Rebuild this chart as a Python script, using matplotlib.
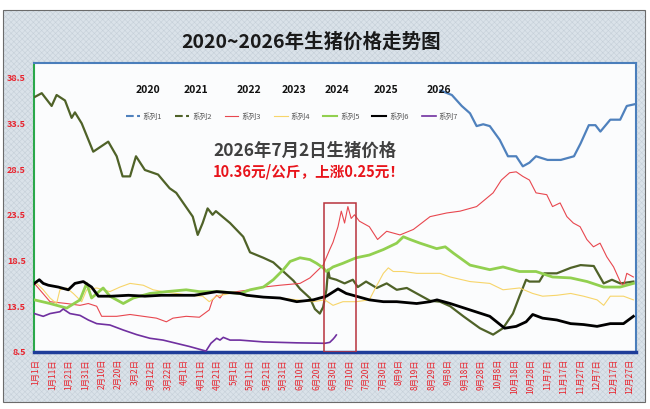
import matplotlib
matplotlib.use('Agg')
import matplotlib.pyplot as plt
from matplotlib.lines import Line2D
from matplotlib.patches import Rectangle

plt.rcParams['font.family'] = ['Noto Sans CJK SC', 'DejaVu Sans']
plt.rcParams['hatch.linewidth'] = 0.4

# day of year -> price (yuan / kg)
s1_day = [246, 253, 259, 264, 268, 272, 276, 282, 287, 292, 296, 300, 304, 311, 319, 327, 331, 336, 340, 343, 349, 355, 359, 364]
s1_val = [37.1, 36.6, 35.4, 34.6, 33.2, 33.4, 33.2, 31.7, 29.9, 29.9, 28.8, 29.2, 29.9, 29.5, 29.5, 29.9, 31.3, 33.3, 33.3, 32.6, 33.9, 33.9, 35.4, 35.6]

s2_day = [0.4, 4.5, 10.5, 13.5, 18.6, 22.6, 24.6, 28.7, 35.7, 44.8, 49.9, 53.5, 58, 61.6, 67, 75, 82, 86, 91, 96, 99, 102, 105, 108, 110,
          118.6, 126.6, 130.7, 138.8, 144.8, 150.9, 157, 161, 167, 170, 173, 175, 177, 178, 179, 183, 188, 193, 196, 201, 207.5,
          213.5, 219.6, 225.7, 231.7, 239.8, 245.8, 252, 260, 270, 278, 284, 290, 294, 298, 300, 306, 309, 316.6, 325, 331, 339,
          345, 350, 355, 363]
s2_val = [36.4, 36.8, 35.4, 36.6, 36.0, 34.1, 34.7, 33.5, 30.4, 31.5, 29.9, 27.7, 27.7, 29.9, 28.4, 27.9, 26.4, 25.9, 24.6, 23.3, 21.3, 22.6, 24.2, 23.5, 23.9,
          22.6, 21.1, 19.4, 18.8, 18.3, 17.3, 16.3, 15.4, 14.4, 13.2, 12.7, 13.4, 15.3, 17.5, 16.6, 16.4, 16.0, 16.4, 15.6, 16.2, 15.5,
          16.0, 15.3, 15.5, 14.9, 14.1, 14.0, 13.5, 12.4, 11.1, 10.4, 11.1, 12.7, 14.6, 16.4, 16.2, 16.2, 17.1, 17.1, 17.7, 18.0, 17.9,
          16.0, 16.4, 16.0, 16.2]

s3_day = [0, 9.5, 19.6, 27.7, 32.7, 37.8, 40.8, 49.9, 58, 66, 74, 80, 84, 92, 100, 106, 108, 110.5, 112.5, 114.5, 122.6, 130.7,
          138.8, 148.9, 161, 167, 171, 175, 179, 181, 184, 186, 188, 190, 192, 194, 197, 203, 208, 213.5, 221.6, 229.7, 239.8,
          249.9, 258, 268, 278, 283, 288, 292, 296, 300, 304, 310.5, 314, 318.6, 322.7, 326.6, 330.7, 334.8, 338.8, 342.8,
          346.9, 351, 355, 357, 359, 363]
s3_val = [16.0, 14.0, 13.8, 13.6, 13.8, 13.5, 12.4, 12.4, 12.6, 12.4, 12.2, 11.8, 12.2, 12.4, 12.3, 13.1, 14.2, 14.7, 14.4, 14.9, 15.1, 15.3,
          15.6, 15.8, 16.0, 16.6, 17.3, 18.0, 19.7, 20.5, 22.2, 23.9, 22.6, 24.4, 23.1, 23.5, 22.8, 22.2, 20.8, 21.7, 21.3, 21.9, 23.3,
          23.7, 23.9, 24.4, 25.9, 27.3, 28.1, 28.2, 27.7, 27.3, 25.9, 25.7, 24.4, 24.8, 23.3, 22.6, 22.2, 20.8, 20.0, 20.4,
          18.9, 17.8, 16.2, 15.7, 17.1, 16.7]

s4_day = [1.4, 5.4, 9.5, 13.5, 15.5, 19.6, 23.6, 28.7, 31.7, 37.8, 45.8, 51.9, 58, 66, 72, 78, 86, 94, 102, 106, 110.5, 118.6,
          124.6, 128.7, 138.8, 148.9, 159, 169, 176, 181, 187, 195, 203, 207, 211.5, 214.5, 217.5, 223.6, 231.7, 245.8, 252,
          264, 276, 284, 294, 302, 308, 316.6, 325, 332.8, 341, 345, 349, 357, 363]
s4_val = [16.0, 15.3, 14.4, 13.8, 15.3, 15.5, 14.9, 14.0, 15.3, 15.5, 15.1, 15.6, 16.0, 15.8, 15.3, 15.1, 14.9, 14.7, 14.6, 14.0, 14.6, 14.9,
          14.9, 14.6, 14.5, 14.4, 14.2, 14.0, 14.2, 13.6, 14.0, 14.0, 14.2, 15.6, 17.1, 17.7, 17.3, 17.3, 17.1, 17.1, 16.7,
          16.2, 16.0, 15.3, 15.5, 14.9, 14.6, 14.7, 14.9, 14.6, 14.2, 13.6, 14.6, 14.6, 14.2]

s5_day = [0, 9.5, 19.6, 27.7, 31.7, 34.7, 41.7, 45.8, 53.9, 60, 70, 80, 92, 100, 110.5, 118.6, 124.6, 130.7, 138.8, 144.8,
          150.9, 155, 161, 167, 171, 175, 177, 181, 187, 195, 203, 211.5, 219.6, 223.6, 227.7, 233.7, 243.8, 249, 254, 264,
          276, 284, 294, 304, 314, 325, 335, 345, 355, 363]
s5_val = [14.2, 13.8, 13.3, 14.2, 16.0, 14.4, 15.5, 14.6, 13.8, 14.4, 14.9, 15.1, 15.3, 15.1, 15.1, 15.0, 14.9, 15.3, 15.6, 16.4,
          17.5, 18.4, 18.8, 18.6, 18.2, 17.7, 17.3, 17.8, 18.2, 18.8, 19.1, 19.7, 20.4, 21.1, 20.8, 20.4, 19.8, 20.0, 19.3, 18.0,
          17.5, 17.8, 17.3, 17.3, 16.7, 16.6, 16.2, 15.6, 15.6, 16.0]

s6_day = [0, 3, 5.4, 8.5, 14.5, 20.6, 24.6, 29.7, 34.7, 38.8, 46.8, 57, 67, 77, 87, 97, 110.5, 124.6, 128.7, 138.8, 148.9,
          159, 169, 177, 184, 189, 195, 203, 211.5, 219.6, 231.7, 239.8, 244, 252, 264, 276, 285, 292, 298, 302, 308, 316.6,
          325, 332.8, 341, 349, 357, 363]
s6_val = [16.0, 16.4, 16.0, 15.8, 15.6, 15.3, 16.0, 16.2, 15.6, 14.6, 14.6, 14.7, 14.6, 14.7, 14.7, 14.7, 15.1, 14.9, 14.7, 14.5, 14.4,
          14.0, 14.2, 14.6, 15.4, 14.9, 14.6, 14.2, 14.0, 14.0, 13.8, 14.0, 14.2, 13.8, 13.1, 12.4, 11.1, 11.3, 11.8, 12.6, 12.2, 12.0,
          11.6, 11.5, 11.3, 11.6, 11.6, 12.4]

s7_day = [0, 5.4, 9.5, 15.5, 17.5, 21.6, 27.7, 32.7, 37.8, 45.8, 53.9, 62, 70, 78, 86, 94, 100, 104, 107, 110.5, 112.5, 114.5,
          118.6, 124.6, 138.8, 159, 176, 179, 181, 182, 183]
s7_val = [12.7, 12.4, 12.7, 12.9, 13.2, 12.7, 12.5, 12.0, 11.6, 11.45, 10.9, 10.4, 10.0, 9.8, 9.45, 9.1, 8.8, 8.6, 9.45, 10.0, 9.8, 10.1,
          9.8, 9.8, 9.6, 9.5, 9.45, 9.55, 9.9, 10.11, 10.36]

series_names = ['系列1', '系列2', '系列3', '系列4', '系列5', '系列6', '系列7']
years = ['2020', '2021', '2022', '2023', '2024', '2025', '2026']

y_ticks = [8.5, 13.5, 18.5, 23.5, 28.5, 33.5, 38.5]
x_ticks = list(range(1, 362, 10))
x_labels = ['1月1日', '1月11日', '1月21日', '1月31日', '2月10日', '2月20日', '3月2日', '3月12日', '3月22日',
            '4月1日', '4月11日', '4月21日', '5月1日', '5月11日', '5月21日', '5月31日', '6月10日', '6月20日',
            '6月30日', '7月10日', '7月20日', '7月30日', '8月9日', '8月19日', '8月29日', '9月8日', '9月18日',
            '9月28日', '10月8日', '10月18日', '10月28日', '11月7日', '11月17日', '11月27日', '12月7日',
            '12月17日', '12月27日']

colors = ['#4F81BD', '#4F6228', '#E8474F', '#F7D56A', '#92D050', '#000000', '#7030A0']
widths = [1.6, 1.6, 0.8, 0.8, 2.0, 2.0, 1.2]

fig = plt.figure(figsize=(6.5, 4.09), dpi=100, facecolor='white')

# outer hatched frame, kept behind the axes
bg = Rectangle((0.0046, 0.017), 0.9877, 0.9586, transform=fig.transFigure,
               facecolor='#dae2e9', edgecolor='#c6d0d9', hatch='xxxxxx', lw=0, zorder=-10)
fig.patches.append(bg)
border = Rectangle((0.0046, 0.017), 0.9877, 0.9586, transform=fig.transFigure,
                   fill=False, edgecolor='#6b6b6b', lw=0.8, zorder=-9)
fig.patches.append(border)

ax = fig.add_axes([0.0523, 0.1394, 0.9262, 0.7066])
ax.set_facecolor('#fbfcfd')

data = [(s1_day, s1_val), (s2_day, s2_val), (s3_day, s3_val), (s4_day, s4_val),
        (s5_day, s5_val), (s6_day, s6_val), (s7_day, s7_val)]
for i, (d, v) in enumerate(data):
    ax.plot(d, v, color=colors[i], lw=widths[i], solid_joinstyle='round', zorder=3 + (i == 5))

ax.set_xlim(-0.2, 364.6)
ax.set_ylim(8.5, 40.1)
ax.set_yticks(y_ticks)
ax.set_yticklabels([str(t) for t in y_ticks], color='#E8242E', fontsize=6.5, fontweight='bold')
ax.set_xticks(x_ticks)
ax.set_xticklabels(x_labels, rotation=90, color='#E8242E', fontsize=6)
ax.tick_params(length=0, pad=5)
ax.tick_params(axis='y', pad=6)

ax.spines['top'].set_color('#4A7EBB')
ax.spines['top'].set_linewidth(1.5)
ax.spines['right'].set_color('#4A7EBB')
ax.spines['right'].set_linewidth(1.5)
ax.spines['left'].set_color('#2AA84A')
ax.spines['left'].set_linewidth(1.5)
ax.spines['bottom'].set_color('#1F3D99')
ax.spines['bottom'].set_linewidth(2.5)

# highlight box around the latest data point
ax.add_patch(Rectangle((175.5, 8.5), 19.5, 16.3, fill=False, edgecolor='#B8333C', lw=1.1, zorder=6))

fig.text(0.479, 0.897, '2020~2026年生猪价格走势图', ha='center', va='center',
         fontsize=14, fontweight='bold', color='#1a1a1a')

year_x = [69, 98, 130, 157, 183.4, 213, 245]
for yx, yr in zip(year_x, years):
    ax.text(yx, 37.2, yr, ha='center', va='center', fontsize=7.5, fontweight='bold', color='#111111')

handles = []
for i in range(7):
    ls = '--' if i < 2 else '-'
    handles.append(Line2D([0], [0], color=colors[i], lw=min(widths[i], 1.5), linestyle=ls))
fig.legend(handles, series_names, ncol=7, loc='center', bbox_to_anchor=(292 / 650, 1 - 117 / 409),
           frameon=False, fontsize=5.5, handlelength=1.8, columnspacing=1.7, handletextpad=0.4,
           labelcolor='#595959')

fig.text(213 / 650, 1 - 151 / 409, '2026年7月2日生猪价格', ha='left', va='center',
         fontsize=12.5, fontweight='bold', color='#404040')
fig.text(213 / 650, 1 - 172 / 409, '10.36元/公斤，上涨0.25元！', ha='left', va='center',
         fontsize=10.5, fontweight='bold', color='#E8141B')

fig.savefig('out.png', dpi=100, facecolor=fig.get_facecolor())
